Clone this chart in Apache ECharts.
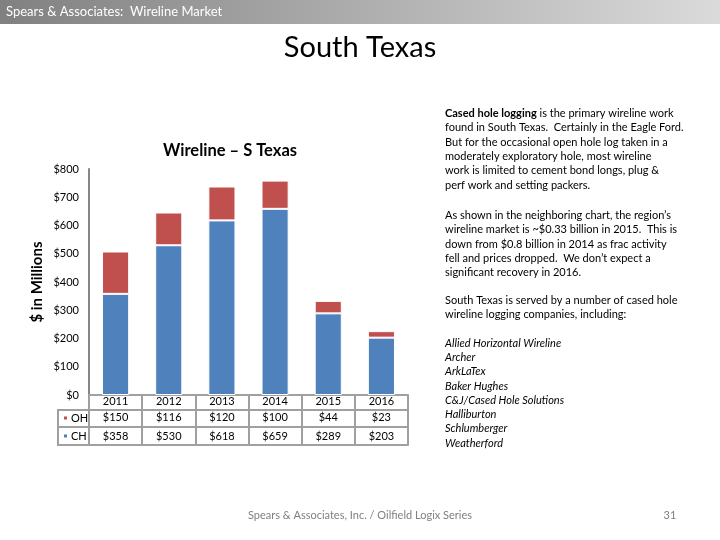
<!DOCTYPE html>
<html><head><meta charset="utf-8">
<script src="https://cdn.jsdelivr.net/npm/echarts@6/dist/echarts.min.js"></script>
<style>html,body{margin:0;padding:0;background:#fff}#c{width:720px;height:540px}</style>
</head><body><div id="c"></div>
<script>
const years = ['2011','2012','2013','2014','2015','2016'];
const ohValues = [150,116,120,100,44,23];
const chValues = [358,530,618,659,289,203];
const companies = ['Allied Horizontal Wireline','Archer','ArkLaTex','Baker Hughes','C&J/Cased Hole Solutions','Halliburton','Schlumberger','Weatherford'];

const FONT = 'Lato';
const tableColor = '#a0a0a0';
const chart = echarts.init(document.getElementById('c'));
const fmt = v => '$' + v;

const rowAxis = (data, offset, showLabel, margin) => ({
  type:'category', data:data, position:'bottom', offset:offset, gridIndex:0,
  axisLine:{show:true, lineStyle:{color:tableColor, width:2}},
  axisTick:{show:false},
  axisLabel:{show:showLabel, margin:margin, color:'#000', fontSize:11, fontFamily:FONT, interval:0}
});

chart.setOption({
  animation:false,
  grid:{left:89, top:169, width:319, height:226},
  legend:{data:['OH','CH'], orient:'vertical', left:62, top:412, padding:0, icon:'rect', itemWidth:5, itemHeight:5, itemGap:6,
    textStyle:{fontSize:11, fontFamily:FONT, color:'#000', lineHeight:12, padding:[0,0,0,-2]}, selectedMode:false},
  xAxis:[
    {type:'category', data:years, position:'bottom', gridIndex:0,
     axisLine:{show:true, lineStyle:{color:tableColor, width:2}},
     axisTick:{show:true, length:50, lineStyle:{color:tableColor, width:2}},
     axisLabel:{margin:1, color:'#000', fontSize:11, fontFamily:FONT, interval:0}},
    rowAxis(ohValues.map(fmt), 15, true, 2),
    rowAxis(chValues.map(fmt), 32, true, 4),
    rowAxis(years, 50, false, 3)
  ],
  yAxis:{type:'value', min:0, max:800, interval:100,
    name:'$ in Millions', nameLocation:'middle', nameGap:44,
    nameTextStyle:{fontSize:15, fontWeight:'bold', fontFamily:FONT, color:'#000'},
    axisLine:{show:true, lineStyle:{color:'#868686', width:2}},
    axisTick:{show:false}, splitLine:{show:false},
    axisLabel:{formatter:v => '$' + v, margin:10, color:'#000', fontSize:11, fontFamily:FONT}},
  series:[
    {name:'CH', type:'bar', stack:'a', data:chValues, barWidth:'51%', xAxisIndex:0,
     itemStyle:{color:'#4F81BD', borderColor:'#fff', borderWidth:1}},
    {name:'OH', type:'bar', stack:'a', data:ohValues, barWidth:'51%', xAxisIndex:0,
     itemStyle:{color:'#C0504D', borderColor:'#fff', borderWidth:1}}
  ],
  graphic:[
    {type:'rect', shape:{x:0, y:0, width:720, height:24}, silent:true,
     style:{fill:{type:'linear', x:0, y:0, x2:1, y2:0, colorStops:[{offset:0, color:'#808080'},{offset:1, color:'#dadada'}]}}},
    {type:'text', x:6, y:12, style:{text:'Spears & Associates:  Wireline Market', fill:'#fff', font:'13px ' + FONT, textVerticalAlign:'middle'}},
    {type:'text', x:360, y:48, style:{text:'South Texas', fill:'#000', font:'29px ' + FONT, textAlign:'center', textVerticalAlign:'middle'}},
    {type:'text', x:230, y:151, style:{text:'Wireline – S Texas', fill:'#000', font:'bold 16.5px ' + FONT, textAlign:'center', textVerticalAlign:'middle'}},
    {type:'rect', shape:{x:58, y:410, width:31, height:35}, style:{fill:'none', stroke:tableColor, lineWidth:2}},
    {type:'line', shape:{x1:58, y1:427, x2:89, y2:427}, style:{stroke:tableColor, lineWidth:2}},
    {type:'text', x:445, y:106, style:{
      text:'{b|Cased hole logging} is the primary wireline work\nfound in South Texas.  Certainly in the Eagle Ford.\nBut for the occasional open hole log taken in a\nmoderately exploratory hole, most wireline\nwork is limited to cement bond longs, plug &\nperf work and setting packers.',
      font:'11px ' + FONT, fill:'#000', lineHeight:14.4,
      rich:{b:{fontWeight:'bold', fontSize:11, fontFamily:FONT, lineHeight:14.4}}}},
    {type:'text', x:445, y:208, style:{
      text:'As shown in the neighboring chart, the region\u2019s\nwireline market is ~$0.33 billion in 2015.  This is\ndown from $0.8 billion in 2014 as frac activity\nfell and prices dropped.  We don\u2019t expect a\nsignificant recovery in 2016.',
      font:'11px ' + FONT, fill:'#000', lineHeight:14.4}},
    {type:'text', x:445, y:293, style:{
      text:'South Texas is served by a number of cased hole\nwireline logging companies, including:',
      font:'11px ' + FONT, fill:'#000', lineHeight:14.4}},
    {type:'text', x:445, y:336, style:{
      text:companies.join('\n'), font:'italic 11px ' + FONT, fill:'#000', lineHeight:14.3}},
    {type:'text', x:360, y:515, style:{text:'Spears & Associates, Inc. / Oilfield Logix Series', font:'11px ' + FONT, fill:'#7f7f7f', textAlign:'center', textVerticalAlign:'middle'}},
    {type:'text', x:670, y:515, style:{text:'31', font:'11px ' + FONT, fill:'#7f7f7f', textAlign:'center', textVerticalAlign:'middle'}}
  ]
});
</script></body></html>
